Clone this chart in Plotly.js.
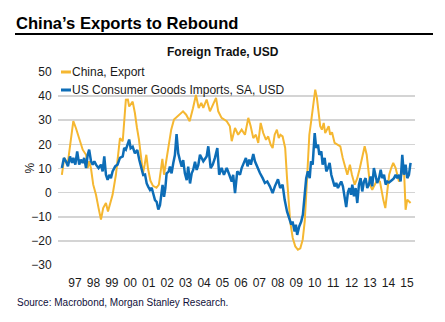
<!DOCTYPE html>
<html>
<head>
<meta charset="utf-8">
<script src="https://cdn.plot.ly/plotly-3.0.1.min.js"></script>
<style>html,body{margin:0;padding:0;background:#fff;}#chart{width:445px;height:322px;}</style>
</head>
<body>
<div id="chart"></div>
<script>
// China, Export (% y/y) — decimal year and value
var chinaX = [1996.79,1996.92,1997.10,1997.23,1997.32,1997.41,1997.55,1997.73,1997.92,1998.10,
1998.19,1998.27,1998.37,1998.49,1998.64,1998.78,1998.91,1999.03,1999.18,1999.29,
1999.40,1999.54,1999.72,1999.85,1999.94,2000.09,2000.17,2000.26,2000.37,2000.44,
2000.63,2000.75,2000.86,2000.97,2001.08,2001.19,2001.28,2001.37,2001.46,2001.59,
2001.73,2001.92,2002.05,2002.16,2002.24,2002.33,2002.45,2002.58,2002.72,2002.87,
2003.08,2003.36,2003.53,2003.72,2003.90,2004.06,2004.21,2004.35,2004.46,2004.64,
2004.82,2005.00,2005.15,2005.27,2005.45,2005.73,2005.90,2006.00,2006.18,2006.35,
2006.54,2006.72,2006.90,2007.03,2007.17,2007.31,2007.44,2007.57,2007.71,2007.86,
2007.98,2008.11,2008.22,2008.33,2008.45,2008.55,2008.64,2008.76,2008.90,2009.00,
2009.09,2009.17,2009.31,2009.45,2009.59,2009.72,2009.85,2009.96,2010.04,2010.13,
2010.21,2010.31,2010.42,2010.53,2010.62,2010.72,2010.80,2010.89,2010.99,2011.07,
2011.17,2011.26,2011.34,2011.44,2011.58,2011.71,2011.89,2012.02,2012.16,2012.27,
2012.41,2012.52,2012.67,2012.81,2012.95,2013.08,2013.21,2013.32,2013.39,2013.50,
2013.62,2013.75,2013.89,2014.04,2014.13,2014.22,2014.33,2014.44,2014.54,2014.65,
2014.76,2014.89,2014.98,2015.07,2015.16,2015.25,2015.34,2015.43,2015.52,2015.61,
2015.70];
var chinaY = [7.4,14.4,11.6,18.5,25.4,29.6,26.8,22,17.8,15.7,
10.2,13,10,3.3,-0.9,-6.4,-11.2,-6.4,-4.3,-7.8,
-5,-0.9,7.4,15.7,22.6,21.3,29.6,38.5,38.6,35.7,
37.7,33,27,22,15,8,11.6,15.7,10,5,
2.8,2,3.3,10,14,7.4,13,19.9,26.1,30.3,
31.6,33.7,32.3,29.6,35,40.5,35.1,37.2,35.1,38.6,
33.7,36.5,39.3,33.7,31,29.6,27.5,21.3,26.8,24,
26.1,24,31,27.5,22.6,24,20.6,28.9,24.7,21.9,
23.3,19.9,18.5,24,26.1,22.6,24,23.3,18.5,6,
-3.6,-11.9,-18.8,-22.3,-23.7,-23.1,-19.5,-11.9,-0.9,14.4,
24,29.6,36.5,42.7,39.3,33.7,27.5,26.1,28.9,24.7,
26,27.5,24,25,20.6,19.9,19.2,14.4,10.2,7.4,
11.6,7.4,3.3,6,10.2,14.4,19.2,15.7,10.2,3.3,
1.2,3.3,5.3,4.6,0.5,-2.9,-6.4,0.5,7.4,10.2,
12.3,10.2,7.4,4.6,6,8.8,10.2,-7.1,-2.9,-3.6,
-4.3];

// US Consumer Goods Imports, SA, USD (% y/y)
var usX = [1996.79,1996.90,1997.01,1997.12,1997.23,1997.34,1997.41,1997.52,1997.62,1997.73,
1997.82,1997.92,1998.00,1998.10,1998.19,1998.27,1998.37,1998.46,1998.55,1998.64,
1998.78,1998.91,1999.00,1999.09,1999.18,1999.27,1999.36,1999.45,1999.54,1999.68,
1999.81,1999.94,2000.09,2000.17,2000.26,2000.36,2000.44,2000.52,2000.63,2000.75,
2000.88,2000.99,2001.12,2001.20,2001.30,2001.39,2001.47,2001.57,2001.66,2001.75,
2001.84,2001.93,2002.02,2002.11,2002.20,2002.25,2002.33,2002.40,2002.47,2002.58,
2002.65,2002.74,2002.83,2002.92,2003.01,2003.10,2003.19,2003.29,2003.37,2003.46,
2003.56,2003.64,2003.74,2003.83,2003.91,2004.01,2004.10,2004.19,2004.28,2004.46,
2004.64,2004.73,2004.86,2004.97,2005.09,2005.22,2005.32,2005.45,2005.58,2005.73,
2005.87,2006.00,2006.08,2006.18,2006.30,2006.45,2006.54,2006.66,2006.77,2006.86,
2006.95,2007.04,2007.17,2007.26,2007.39,2007.53,2007.68,2007.80,2007.93,2008.07,
2008.22,2008.34,2008.51,2008.63,2008.76,2008.87,2009.00,2009.12,2009.23,2009.30,
2009.41,2009.48,2009.55,2009.66,2009.77,2009.86,2009.96,2010.04,2010.13,2010.23,
2010.30,2010.39,2010.50,2010.58,2010.68,2010.75,2010.86,2010.93,2011.04,2011.13,
2011.22,2011.31,2011.40,2011.49,2011.58,2011.67,2011.76,2011.85,2011.94,2012.03,
2012.12,2012.21,2012.30,2012.38,2012.47,2012.54,2012.63,2012.72,2012.81,2012.90,
2012.99,2013.08,2013.17,2013.26,2013.35,2013.44,2013.53,2013.62,2013.71,2013.81,
2013.89,2013.99,2014.08,2014.16,2014.26,2014.35,2014.44,2014.53,2014.62,2014.71,
2014.80,2014.89,2014.98,2015.07,2015.16,2015.25,2015.34,2015.43,2015.52,2015.61,
2015.70];
var usY = [10.2,14.4,13,10.9,15,12.3,14.4,11.6,17.1,11.6,
13.7,12.3,14.4,10.2,15.7,17.8,13,11.6,13,11.6,
10.2,11.6,8.8,15,7.4,5.3,7.4,6,8.8,10.9,
11.6,14.4,15,18.5,17.8,20.6,22,18.4,19,16.3,
17.7,13.5,9.4,7.3,7.5,3.8,2.5,1.1,2,-0.3,
-3.1,-3.8,-7,-5.2,-0.3,3.2,-1.7,1.8,8,8.7,
10.8,8,12.2,15.6,24.3,16.3,13.5,10.8,13.5,8,
5.2,10.8,3.8,8,9.4,12.8,9.4,11.5,15.7,13,
15,19.2,10.2,11.6,14.4,18.5,7.4,10.2,7.4,10.2,
7.4,4.6,7.4,-0.2,8.8,7.4,10.2,12.3,14.4,10.9,
13.7,11.6,16,13,10.2,8.1,6,4,4.6,2.6,
-0.2,2.6,5.5,1.9,3.3,-2.9,-7.8,-10.5,-13.3,-12,
-16.1,-13.3,-17.5,-14,-12,-9.1,0.5,6,8.8,6,
13,11.6,24.7,18.5,19.9,15.7,17.1,11.6,14.4,8.8,
10.2,12.3,7.4,4.6,2.6,4,1.9,3.3,4.6,2.6,
-1,-6,0,1.9,-0.9,3.3,-1.5,1.9,-4.3,3.3,
6,0.5,4.6,6,1.9,3.3,6.7,2.6,10.2,7.4,
4,6,9.5,6,7.4,3.3,4.6,4.2,4.6,5.3,
6,7.4,6,7.4,4.6,15.7,7.4,11.6,6,7.4,
12.3];

var tickYears = [1997,1998,1999,2000,2001,2002,2003,2004,2005,2006,2007,2008,2009,2010,2011,2012,2013,2014,2015];
var tickLabels = ['97','98','99','00','01','02','03','04','05','06','07','08','09','10','11','12','13','14','15'];
var yTicks = [-30,-20,-10,0,10,20,30,40,50];
var seriesNames = ['China, Export', 'US Consumer Goods Imports, SA, USD'];

var FONT = 'Arial, "Liberation Sans", Helvetica, sans-serif';
var YELLOW = '#F5B731';
var BLUE = '#0D6DB7';

var traces = [
  {x: chinaX, y: chinaY, type: 'scatter', mode: 'lines', name: seriesNames[0],
   line: {color: YELLOW, width: 2}, hoverinfo: 'skip'},
  {x: usX, y: usY, type: 'scatter', mode: 'lines', name: seriesNames[1],
   line: {color: BLUE, width: 2.5}, hoverinfo: 'skip'}
];

var layout = {
  width: 445, height: 322,
  margin: {l: 58, r: 30, t: 72, b: 57, pad: 0},
  paper_bgcolor: '#fff', plot_bgcolor: '#fff',
  showlegend: false,
  font: {family: FONT, size: 12, color: '#1a1a1a'},
  title: {text: "<b>China\u2019s Exports to Rebound</b>", font: {family: FONT, size: 16.6, color: '#000'},
          x: 16/445, xanchor: 'left', xref: 'container', y: 1 - 23/322, yanchor: 'middle', yref: 'container'},
  xaxis: {
    range: [1996.58, 2015.94],
    tickvals: tickYears.map(function(v){return v + 0.5;}),
    ticktext: tickLabels,
    showgrid: false, zeroline: false, showline: false,
    ticks: 'outside', ticklen: 7, tickcolor: 'rgba(0,0,0,0)',
    tickfont: {family: FONT, size: 12, color: '#1a1a1a'},
    fixedrange: true
  },
  yaxis: {
    range: [-30, 50],
    tickvals: yTicks,
    showgrid: true, gridcolor: '#D4D4D4', gridwidth: 1.6,
    zeroline: false, showline: false,
    ticks: 'outside', ticklen: 3, tickcolor: 'rgba(0,0,0,0)',
    tickfont: {family: FONT, size: 12, color: '#1a1a1a'},
    fixedrange: true
  },
  shapes: [
    {type: 'line', xref: 'paper', yref: 'paper', x0: (15-58)/357, x1: (433-58)/357, y0: (265-34)/193, y1: (265-34)/193,
     line: {color: '#000', width: 2}},
    {type: 'line', xref: 'paper', yref: 'paper', x0: (61-58)/357, x1: (71-58)/357, y0: 1.0, y1: 1.0,
     line: {color: YELLOW, width: 3}},
    {type: 'line', xref: 'paper', yref: 'paper', x0: (61-58)/357, x1: (71-58)/357, y0: (265-90)/193, y1: (265-90)/193,
     line: {color: BLUE, width: 3}}
  ],
  annotations: [
    {text: '<b>Foreign Trade, USD</b>', xref: 'paper', yref: 'paper', x: (223-58)/357, y: (265-52)/193,
     xanchor: 'center', yanchor: 'middle', showarrow: false, font: {family: FONT, size: 12, color: '#111'}},
    {text: seriesNames[0], xref: 'paper', yref: 'paper', x: (70-58)/357, y: 1.0,
     xanchor: 'left', yanchor: 'middle', showarrow: false, font: {family: FONT, size: 12, color: '#1a1a1a'}},
    {text: seriesNames[1], xref: 'paper', yref: 'paper', x: (70-58)/357, y: (265-90)/193,
     xanchor: 'left', yanchor: 'middle', showarrow: false, font: {family: FONT, size: 12, color: '#1a1a1a'}},
    {text: '%', xref: 'paper', yref: 'paper', x: (29-58)/357, y: 0.5, textangle: -90,
     xanchor: 'center', yanchor: 'middle', showarrow: false, font: {family: FONT, size: 12, color: '#1a1a1a'}},
    {text: 'Source: Macrobond, Morgan Stanley Research.', xref: 'paper', yref: 'paper', x: (15-58)/357, y: (265-302)/193,
     xanchor: 'left', yanchor: 'middle', showarrow: false, font: {family: FONT, size: 10, color: '#10103a'}}
  ]
};

Plotly.newPlot('chart', traces, layout, {staticPlot: true, displayModeBar: false});
</script>
</body>
</html>
